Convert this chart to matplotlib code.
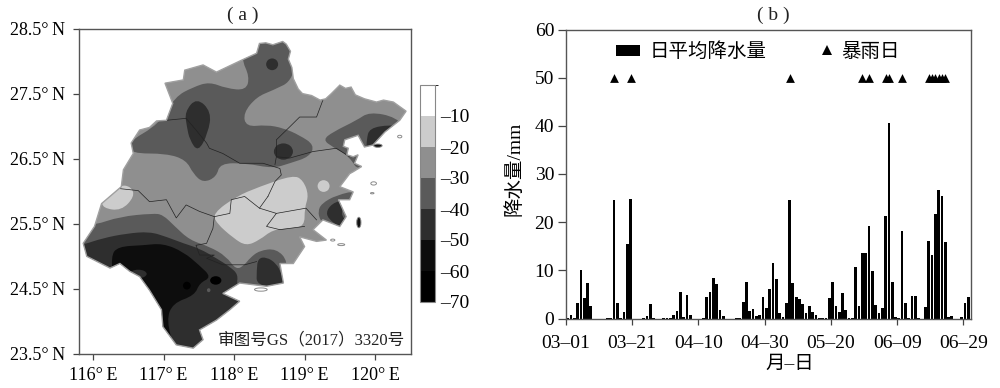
#Rainfall anomaly map (a) and daily rain bars (b)
import matplotlib
matplotlib.use('Agg')
import matplotlib.pyplot as plt
from matplotlib.patches import Polygon, Ellipse, Patch, PathPatch
from matplotlib.path import Path
from matplotlib.lines import Line2D
from matplotlib.colors import ListedColormap, BoundaryNorm
from matplotlib.cm import ScalarMappable

plt.rcParams['font.family'] = ['Liberation Serif', 'Noto Sans CJK SC']

#---- panel b data ----
daily_rain = [0.1, 0.7, 0.2, 3.3, 10.0, 4.3, 7.4, 2.6, 0, 0, 0, 0, 0.2, 0.2, 24.6, 3.3, 0.2, 1.3, 15.5, 24.8,
              0, 0, 0, 0.2, 0.5, 3.1, 0.1, 0, 0, 0.1, 0.2, 0.2, 0.7, 1.5, 5.5, 0.4, 4.8, 0.7, 0, 0,
              0, 0.1, 4.4, 5.5, 8.5, 7.2, 1.8, 0.5, 0, 0, 0, 0.15, 0.15, 3.4, 7.5, 1.5, 2.0, 0.5, 0.7, 4.5,
              2.1, 6.2, 11.5, 8.3, 1.2, 0.3, 3.3, 24.5, 7.4, 4.4, 4.1, 3.0, 1.2, 2.6, 1.3, 0.8, 0.1, 0.1, 0.1, 4.3,
              7.5, 2.6, 1.4, 5.2, 1.7, 0.2, 0.2, 10.6, 2.5, 13.7, 13.7, 19.2, 9.8, 2.8, 1.2, 2.1, 21.3, 40.5, 7.5, 0.3,
              0.1, 18.2, 3.3, 0.2, 4.7, 4.6, 0.1, 0, 2.3, 16.1, 13.1, 21.7, 26.6, 25.4, 15.8, 0.3, 0.6, 0, 0, 0.4,
              3.3, 4.4]
storm_days = [14, 19, 67, 89, 91, 96, 97, 101, 109, 110, 111, 112, 113, 114]
storm_level = 50
date_ticks = [0, 20, 40, 60, 80, 100, 120]
date_labels = ['03–01', '03–21', '04–10', '04–30', '05–20', '06–09', '06–29']
rain_ticks = [0, 10, 20, 30, 40, 50, 60]

#---- panel a data (lon, lat) ----
outline = [(118.36, 28.27), (118.45, 28.28), (118.55, 28.25), (118.69, 28.30), (118.74, 28.26), (118.80, 28.15),
           (118.77, 28.03), (118.82, 27.90), (118.84, 27.73), (118.91, 27.57), (118.97, 27.50), (119.10, 27.47),
           (119.22, 27.40), (119.30, 27.42), (119.38, 27.50), (119.50, 27.63), (119.58, 27.58), (119.66, 27.60),
           (119.72, 27.48), (119.85, 27.42), (120.02, 27.37), (120.12, 27.40), (120.26, 27.37), (120.35, 27.30),
           (120.44, 27.23), (120.35, 27.09), (120.21, 26.97), (120.14, 26.91), (119.97, 26.71), (119.85, 26.68),
           (119.76, 26.86), (119.57, 26.79), (119.55, 26.69), (119.62, 26.66), (119.60, 26.56), (119.69, 26.53),
           (119.76, 26.56), (119.71, 26.43), (119.81, 26.38), (119.69, 26.30), (119.64, 26.27), (119.50, 26.07),
           (119.69, 25.99), (119.64, 25.87), (119.48, 25.87), (119.59, 25.61), (119.50, 25.46), (119.26, 25.56),
           (119.12, 25.41), (119.31, 25.25), (119.17, 25.23), (118.93, 25.30), (119.00, 25.15), (118.84, 24.89),
           (118.65, 24.89), (118.70, 24.59), (118.46, 24.54), (118.08, 24.59), (117.84, 24.43), (118.08, 24.31),
           (117.94, 24.18), (117.75, 24.02), (117.51, 23.87), (117.56, 23.72), (117.42, 23.59), (117.18, 23.64),
           (116.99, 23.92), (116.97, 24.18), (116.80, 24.48), (116.66, 24.69), (116.52, 24.77), (116.38, 24.89),
           (116.24, 24.82), (115.91, 25.00), (115.86, 25.20), (116.02, 25.46), (116.12, 25.81), (116.40, 26.07),
           (116.43, 26.33), (116.57, 26.58), (116.54, 26.74), (116.66, 26.94), (116.80, 26.98), (116.90, 27.08),
           (117.04, 27.09), (117.13, 27.35), (117.02, 27.66), (117.28, 27.71), (117.30, 27.86), (117.56, 27.94),
           (117.75, 27.83), (118.10, 28.01), (118.32, 28.12)]

#the zones are painted on top of the -30..-20 base, each clipped to the outline
level_edges = [-70, -60, -50, -40, -30, -20, -10, 0]
level_colors = ['#000000', '#0d0d0d', '#2e2e2e', '#5a5a5a', '#8f8f8f', '#cccccc', '#ffffff']

north_30 = [(116.47, 26.74), (116.95, 27.04), (117.16, 27.45), (117.42, 27.60), (117.65, 27.68), (117.89, 27.58),
            (118.17, 27.55), (118.22, 27.76), (118.10, 28.04), (118.17, 28.42), (118.93, 28.42), (118.85, 27.71),
            (118.55, 27.55), (118.32, 27.45), (118.13, 27.20), (118.17, 26.99), (118.46, 27.02), (118.70, 26.97),
            (118.93, 26.86), (119.14, 26.71), (119.07, 26.53), (118.79, 26.43), (118.55, 26.35), (118.17, 26.43),
            (117.80, 26.43), (117.75, 26.22), (117.56, 26.13), (117.42, 26.27), (117.32, 26.48), (117.04, 26.58),
            (116.54, 26.58)]
north_oval = [(117.30, 27.22), (117.47, 27.44), (117.68, 27.22), (117.63, 26.89), (117.49, 26.60), (117.37, 26.79),
              (117.33, 26.99)]
northeast_30 = [(119.26, 26.79), (119.40, 26.91), (119.74, 27.09), (119.92, 27.22), (120.30, 27.14), (120.49, 26.89),
                (119.78, 26.27), (119.64, 26.53), (119.40, 26.68)]
northeast_40 = [(119.88, 26.79), (119.92, 26.97), (120.21, 27.02), (120.30, 26.99), (120.07, 26.63), (119.88, 26.63)]
west_10 = [(116.14, 25.74), (116.40, 25.70), (116.59, 25.92), (116.54, 26.07), (116.38, 26.10), (116.12, 25.87)]
center_10 = [(117.70, 25.66), (118.03, 25.92), (118.36, 26.07), (118.84, 26.25), (118.98, 26.17), (119.06, 25.94),
             (119.00, 25.74), (119.00, 25.46), (118.79, 25.43), (118.55, 25.41), (118.36, 25.25), (118.17, 25.16),
             (117.99, 25.28), (117.75, 25.51)]
south_30 = [(116.02, 25.48), (116.38, 25.61), (116.85, 25.66), (116.99, 25.64), (117.16, 25.46), (117.37, 25.25),
            (117.65, 25.15), (117.89, 25.00), (118.03, 24.79), (118.15, 24.87), (118.22, 24.97), (118.36, 25.09),
            (118.60, 25.12), (118.77, 24.92), (118.70, 24.59), (118.84, 23.40), (115.80, 23.40), (115.80, 25.48)]
south_40 = [(115.86, 25.18), (116.14, 25.28), (116.47, 25.35), (116.80, 25.38), (117.04, 25.30), (117.28, 25.20),
            (117.51, 25.12), (117.75, 24.97), (117.94, 24.84), (118.06, 24.72), (118.03, 24.54), (118.36, 23.40),
            (115.80, 23.40), (115.80, 25.18)]
south_50 = [(116.35, 25.15), (116.71, 25.17), (116.99, 25.20), (117.28, 25.07), (117.51, 24.86), (117.68, 24.68),
            (117.51, 24.59), (117.44, 24.40), (117.13, 24.28), (117.04, 24.02), (117.16, 23.55), (116.80, 23.60),
            (116.30, 24.50), (116.25, 25.00)]
coast_40 = [(118.34, 24.97), (118.46, 24.99), (118.60, 24.89), (118.67, 24.74), (118.74, 24.54), (118.32, 24.54),
            (118.32, 24.79)]
bay_30 = [(119.19, 25.69), (119.24, 25.81), (119.45, 25.94), (119.78, 26.02), (119.78, 25.35), (119.31, 25.41),
          (119.22, 25.56)]
bay_40 = [(119.31, 25.71), (119.43, 25.84), (119.62, 25.87), (119.50, 25.66), (119.62, 25.51), (119.52, 25.43),
          (119.33, 25.58)]
zones = [(north_30, 3), (north_oval, 2), (northeast_30, 3), (northeast_40, 2), (west_10, 5), (center_10, 5),
         (south_30, 3), (south_40, 2), (south_50, 1), (coast_40, 2), (bay_30, 3), (bay_40, 2)]

#lon, lat, width, height, colour index
blobs = [(118.54, 27.95, 0.17, 0.18, 2), (118.70, 26.61, 0.27, 0.25, 2),
         (119.27, 26.08, 0.17, 0.18, 5), (116.64, 24.73, 0.24, 0.13, 2), (117.33, 24.55, 0.11, 0.12, 0),
         (117.74, 24.63, 0.16, 0.13, 0), (117.64, 24.48, 0.05, 0.06, 3)]

city_lines = [[(117.04, 27.09), (117.32, 27.12), (117.46, 26.94), (117.61, 26.74), (117.65, 26.66), (117.84, 26.58),
               (118.08, 26.43), (118.41, 26.43), (118.65, 26.35), (118.67, 26.25), (118.58, 26.15), (118.48, 25.92)],
              [(118.48, 25.92), (118.36, 25.74), (118.60, 25.66), (118.46, 25.46), (118.65, 25.41), (119.00, 25.46)],
              [(116.38, 26.04), (116.64, 26.01), (116.80, 25.84), (117.04, 25.87), (117.18, 25.59), (117.32, 25.79),
               (117.51, 25.69), (117.72, 25.61), (117.70, 25.43), (117.61, 25.20), (117.46, 25.17), (117.51, 25.02),
               (117.72, 25.02), (117.61, 24.97), (117.84, 24.87), (117.99, 24.87), (118.15, 24.87), (118.32, 24.92)],
              [(118.36, 25.74), (118.15, 25.92), (117.96, 25.87), (117.94, 25.66), (117.72, 25.61)],
              [(118.60, 25.66), (119.02, 25.74), (119.17, 25.56)],
              [(118.58, 26.41), (118.60, 26.53), (118.79, 26.51), (119.12, 26.61), (119.45, 26.66), (119.64, 26.53)],
              [(118.60, 26.53), (118.60, 26.79), (118.79, 26.99), (118.93, 27.14), (119.17, 27.14), (119.26, 27.40)]]

#lon, lat, width, height, filled
islands = [(119.77, 25.52, 0.06, 0.16, True), (120.04, 26.70, 0.12, 0.05, True), (120.35, 26.84, 0.06, 0.04, False),
           (119.98, 26.12, 0.08, 0.05, False), (119.96, 25.97, 0.05, 0.02, False), (119.52, 25.18, 0.10, 0.03, False),
           (118.38, 24.49, 0.18, 0.05, False), (119.40, 25.25, 0.06, 0.03, False)]

lon_ticks = [116, 117, 118, 119, 120]
lat_ticks = [23.5, 24.5, 25.5, 26.5, 27.5, 28.5]
bar_ticks = [-70, -60, -50, -40, -30, -20, -10]

fig = plt.figure(figsize=(10, 3.88), dpi=100)
W, H = 1000, 388


def px_axes(x0, y0, x1, y1):
    return fig.add_axes([x0 / W, 1 - y1 / H, (x1 - x0) / W, (y1 - y0) / H])


#closed curve through the midpoints, the listed points act as control points
def smooth_path(pts):
    mids = [((pts[i][0] + pts[(i + 1) % len(pts)][0]) / 2, (pts[i][1] + pts[(i + 1) % len(pts)][1]) / 2) for i in range(len(pts))]
    verts = [mids[-1]]
    codes = [Path.MOVETO]
    for i in range(len(pts)):
        verts += [pts[i], mids[i]]
        codes += [Path.CURVE3, Path.CURVE3]
    verts.append(mids[-1])
    codes.append(Path.CLOSEPOLY)
    return Path(verts, codes)


#---- (a) map ----
ax = px_axes(79, 28.5, 411, 354)
ax.set_xlim(115.8, 120.51)
ax.set_ylim(23.5, 28.5)

border = Polygon(outline, closed=True, facecolor=level_colors[4], edgecolor='none', zorder=1)
ax.add_patch(border)
for pts, idx in zones:
    p = PathPatch(smooth_path(pts), facecolor=level_colors[idx], edgecolor='none', zorder=2)
    ax.add_patch(p)
    p.set_clip_path(border)
for lon, lat, w, h, idx in blobs:
    e = Ellipse((lon, lat), w, h, facecolor=level_colors[idx], edgecolor='none', zorder=3)
    ax.add_patch(e)
    e.set_clip_path(border)
for line in city_lines:
    ax.plot([a for a, b in line], [b for a, b in line], color='#222222', lw=0.5, zorder=4)
ax.add_patch(Polygon(outline, closed=True, facecolor='none', edgecolor='#a0a0a0', lw=1.0, zorder=5))
for lon, lat, w, h, filled in islands:
    ax.add_patch(Ellipse((lon, lat), w, h, facecolor='#111111' if filled else 'white', edgecolor='#8a8a8a', lw=0.7, zorder=5))

ax.set_xticks(lon_ticks)
ax.set_xticklabels([f'{v}°\u2009E' for v in lon_ticks])
ax.set_yticks(lat_ticks)
ax.set_yticklabels([f'{v}°\u2009N' for v in lat_ticks])
ax.tick_params(labelsize=13, length=4, width=0.9, color='#444444')
ax.tick_params(axis='y', pad=6)
ax.tick_params(axis='x', pad=5)
for s in ax.spines.values():
    s.set_color('#555555')
    s.set_linewidth(1.0)
fig.text(405 / W, 1 - 340 / H, '审图号GS（2017）3320号', fontsize=12, ha='right', va='center', color='#222222')
fig.text(243 / W, 1 - 15 / H, '( a )', fontsize=14, ha='center', va='center', color='#222222')

#---- colorbar ----
cax = px_axes(420, 85, 434.5, 302)
norm = BoundaryNorm(level_edges, len(level_colors))
cb = fig.colorbar(ScalarMappable(norm=norm, cmap=ListedColormap(level_colors)), cax=cax, ticks=bar_ticks, spacing='uniform')
cb.ax.set_yticklabels([f'–{abs(v)}' for v in bar_ticks])
cb.ax.tick_params(labelsize=14, length=0, pad=4)
cb.outline.set_edgecolor('#888888')
cb.outline.set_linewidth(0.8)

#---- (b) bars ----
bx = px_axes(566, 29.5, 971, 318.5)
bx.set_xlim(0, 122.3)
bx.set_ylim(0, 60)
days = [i + 0.5 for i in range(len(daily_rain))]
bx.bar(days, daily_rain, width=0.82, color='black', zorder=2)
bx.scatter([d + 0.5 for d in storm_days], [storm_level] * len(storm_days), marker='^', s=40, color='black', linewidths=0, zorder=3)
bx.set_xticks(date_ticks)
bx.set_xticklabels(date_labels)
bx.set_yticks(rain_ticks)
bx.tick_params(labelsize=14, width=0.9, color='#444444')
bx.tick_params(axis='x', length=4, pad=8)
bx.tick_params(axis='y', length=5.5, pad=3)
for s in bx.spines.values():
    s.set_color('#555555')
    s.set_linewidth(1.0)
bx.set_xlabel('月–日', fontsize=14, labelpad=3, x=0.553)
bx.set_ylabel('降水量/mm', fontsize=14, labelpad=8, y=0.517)

leg1 = bx.legend(handles=[Patch(facecolor='black', label='日平均降水量')], loc='upper left', bbox_to_anchor=(0.123, 0.955),
                 frameon=False, fontsize=14, handlelength=1.24, handleheight=0.5, handletextpad=0.5, borderpad=0, borderaxespad=0)
bx.add_artist(leg1)
bx.legend(handles=[Line2D([], [], marker='^', linestyle='none', color='black', markeredgewidth=0, markersize=6.5, label='暴雨日')],
          loc='upper left', bbox_to_anchor=(0.627, 0.955), frameon=False, fontsize=14, handlelength=0.7,
          handletextpad=0.4, borderpad=0, borderaxespad=0)
fig.text(773 / W, 1 - 15 / H, '( b )', fontsize=14, ha='center', va='center', color='#222222')

fig.savefig('out.png', dpi=100)
